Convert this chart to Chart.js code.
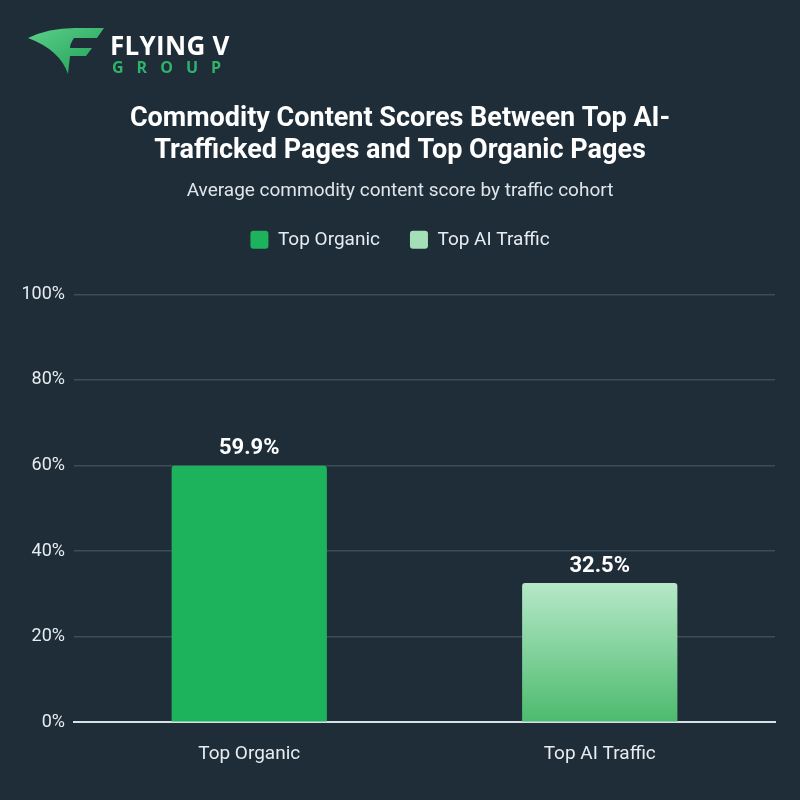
<!DOCTYPE html>
<html lang="en">
<head>
    <meta charset="UTF-8">
    <title>Commodity Content Scores</title>
    <script src="https://cdn.jsdelivr.net/npm/chart.js"></script>
    <style>
        html, body {
            margin: 0;
            padding: 0;
            background-color: #1f2d39;
        }
        .wrap {
            position: relative;
            width: 800px;
            height: 800px;
        }
        .logo {
            position: absolute;
            left: 24px;
            top: 24px;
            width: 220px;
            height: 56px;
        }
        .logo svg {
            position: absolute;
            left: 0;
            top: 0;
        }
        .logo .name {
            position: absolute;
            left: 86px;
            top: 7px;
            font-family: 'Open Sans', sans-serif;
            font-weight: 700;
            font-size: 26px;
            line-height: 28px;
            color: #ffffff;
            letter-spacing: 0.3px;
        }
        .logo .group {
            position: absolute;
            left: 88px;
            top: 34px;
            font-family: 'Open Sans', sans-serif;
            font-weight: 700;
            font-size: 16px;
            line-height: 18px;
            color: #2fb36a;
            letter-spacing: 13px;
        }
        canvas {
            position: absolute;
            left: 0;
            top: 0;
        }
    </style>
</head>
<body>
    <div class="wrap">
        <canvas id="chart" width="800" height="800"></canvas>
        <div class="logo">
            <svg width="84" height="56" viewBox="0 0 84 56">
                <defs>
                    <linearGradient id="lg" x1="0" y1="0" x2="1" y2="1">
                        <stop offset="0" stop-color="#5cd08a"/>
                        <stop offset="1" stop-color="#1f9e55"/>
                    </linearGradient>
                </defs>
                <path d="M4,14 Q26,3 56,4 L80,4 L73,14 L50,14 Q46,20 46,24 L68,24 L62,32 L46,32 L44,50 Q36,26 4,14 Z" fill="url(#lg)"/>
            </svg>
            <div class="name">FLYING V</div>
            <div class="group">GROUP</div>
        </div>
    </div>
    <script>
        // chart data
        const categories = ['Top Organic', 'Top AI Traffic'];
        const scores = [59.9, 32.5];
        const tickValues = [0, 20, 40, 60, 80, 100];

        const titleLines = ['Commodity Content Scores Between Top AI-', 'Trafficked Pages and Top Organic Pages'];
        const subtitleText = 'Average commodity content score by traffic cohort';

        const solidGreen = '#1db35d';

        function barColor(context) {
            if (context.dataIndex === 0) return solidGreen;
            const chart = context.chart;
            const area = chart.chartArea;
            if (!area) return '#7fd39b';
            const top = chart.scales.y.getPixelForValue(scores[1]);
            if (!Number.isFinite(top) || !Number.isFinite(area.bottom)) return '#7fd39b';
            const g = chart.ctx.createLinearGradient(0, top, 0, area.bottom);
            g.addColorStop(0, '#b6e8c8');
            g.addColorStop(1, '#4cbb6d');
            return g;
        }

        // value labels above bars
        const valueLabels = {
            id: 'valueLabels',
            afterDatasetsDraw(chart) {
                const ctx = chart.ctx;
                const meta = chart.getDatasetMeta(0);
                ctx.save();
                ctx.fillStyle = '#ffffff';
                ctx.font = 'bold 22px Roboto';
                ctx.textAlign = 'center';
                ctx.textBaseline = 'bottom';
                meta.data.forEach((bar, i) => {
                    ctx.fillText(scores[i].toFixed(1) + '%', bar.x, bar.y - 6);
                });
                ctx.restore();
            }
        };

        // extra room under the legend
        const legendGap = {
            id: 'legendGap',
            afterInit(chart) {
                const legend = chart.legend;
                if (!legend) return;
                const fit = legend.fit;
                legend.fit = function () {
                    fit.call(this);
                    this.height += 35;
                };
            }
        };

        new Chart(document.getElementById('chart'), {
            type: 'bar',
            data: {
                labels: categories,
                datasets: [{
                    label: 'Score',
                    data: scores,
                    backgroundColor: barColor,
                    borderRadius: { topLeft: 3, topRight: 3 },
                    borderSkipped: 'bottom',
                    barPercentage: 0.443,
                    categoryPercentage: 1
                }]
            },
            options: {
                responsive: false,
                animation: false,
                layout: {
                    padding: { left: 0, right: 0, top: 0, bottom: 13 }
                },
                plugins: {
                    title: {
                        display: true,
                        text: titleLines,
                        color: '#ffffff',
                        font: { family: 'Roboto', size: 27, weight: 'bold', lineHeight: 1.19 },
                        padding: { top: 103, bottom: 14 }
                    },
                    subtitle: {
                        display: true,
                        text: subtitleText,
                        color: '#dfe6ea',
                        font: { family: 'Roboto', size: 19, lineHeight: 1.0 },
                        padding: { top: 0, bottom: 0 }
                    },
                    legend: {
                        display: true,
                        position: 'top',
                        labels: {
                            color: '#e6ecef',
                            font: { family: 'Roboto', size: 19 },
                            boxWidth: 18,
                            boxHeight: 18,
                            padding: 30,
                            useBorderRadius: true,
                            borderRadius: 3,
                            generateLabels(chart) {
                                return categories.map((c, i) => ({
                                    text: c,
                                    fillStyle: i === 0 ? solidGreen : '#a3dfb7',
                                    strokeStyle: 'transparent',
                                    lineWidth: 0,
                                    fontColor: '#e6ecef',
                                    borderRadius: 3,
                                    index: i
                                }));
                            }
                        },
                        onClick() {}
                    },
                    tooltip: { enabled: false }
                },
                scales: {
                    x: {
                        grid: { display: false, drawTicks: false },
                        border: { display: true, color: '#d6e2e4', width: 2 },
                        ticks: {
                            color: '#e6ecef',
                            font: { family: 'Roboto', size: 19 },
                            padding: 21
                        }
                    },
                    y: {
                        min: 0,
                        max: 100,
                        afterFit(scale) { scale.width = 74; },
                        afterBuildTicks(scale) {
                            scale.ticks = tickValues.map(v => ({ value: v }));
                        },
                        grid: {
                            color: '#3c4d58',
                            lineWidth: 1.5,
                            drawTicks: false
                        },
                        border: { display: false },
                        ticks: {
                            color: '#e6ecef',
                            font: { family: 'Roboto', size: 18 },
                            padding: 9,
                            callback: v => v + '%'
                        }
                    },
                    // empty right-hand axis that only reserves the right margin
                    yRight: {
                        position: 'right',
                        afterFit(scale) { scale.width = 25; },
                        grid: { display: false, drawTicks: false },
                        border: { display: false },
                        ticks: { display: false }
                    }
                }
            },
            plugins: [valueLabels, legendGap]
        });
    </script>
</body>
</html>
